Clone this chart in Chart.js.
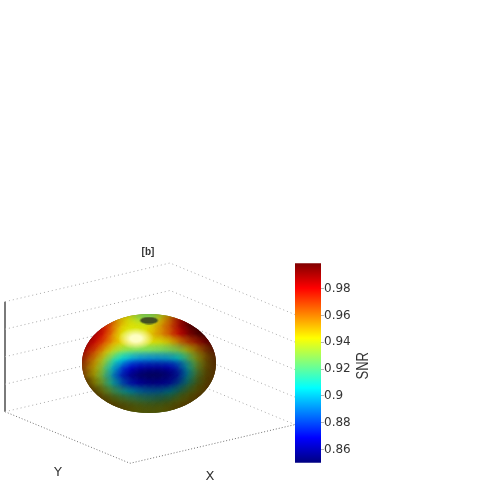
<!DOCTYPE html>
<html>
<head>
<meta charset="utf-8">
<style>
  html, body { margin: 0; background: #fff; }
  canvas { position: absolute; filter: blur(0.45px); }
  #view { left: 0; top: 0; }
  #bar { left: 295px; top: 256px; }
</style>
</head>
<body>
<canvas id="view" width="485" height="485"></canvas>
<canvas id="bar" width="90" height="214"></canvas>
<script src="https://cdn.jsdelivr.net/npm/chart.js@4"></script>
<script>
// colorbar
const snrTicks = [0.86, 0.88, 0.9, 0.92, 0.94, 0.96, 0.98];
const snrMin = 0.8501;
const snrMax = 0.999;
const jetStops = [
  [0, 0, 0, 128],
  [1 / 8, 0, 0, 255],
  [3 / 8, 0, 255, 255],
  [5 / 8, 255, 255, 0],
  [7 / 8, 255, 0, 0],
  [1, 128, 0, 0]
];

// box levels
const boxSpan = [0, 1];
const zLevels = [0, 0.25, 0.5, 0.75, 1];

const ballSnr = [
  [0.965, 0.965, 0.960, 0.955, 0.950, 0.945, 0.938, 0.932, 0.928, 0.932, 0.940, 0.950, 0.960, 0.975, 0.985, 0.990, 0.990],
  [0.980, 0.978, 0.975, 0.968, 0.958, 0.950, 0.942, 0.932, 0.928, 0.932, 0.948, 0.962, 0.982, 0.994, 0.998, 0.998, 0.998],
  [0.985, 0.985, 0.982, 0.975, 0.962, 0.948, 0.942, 0.942, 0.942, 0.948, 0.958, 0.968, 0.985, 0.996, 0.999, 0.999, 0.999],
  [0.990, 0.988, 0.985, 0.975, 0.958, 0.942, 0.940, 0.940, 0.945, 0.952, 0.958, 0.968, 0.980, 0.990, 0.996, 0.996, 0.996],
  [0.988, 0.985, 0.978, 0.966, 0.954, 0.946, 0.945, 0.945, 0.942, 0.942, 0.942, 0.948, 0.958, 0.968, 0.975, 0.982, 0.985],
  [0.982, 0.976, 0.966, 0.952, 0.938, 0.930, 0.926, 0.925, 0.925, 0.925, 0.925, 0.926, 0.930, 0.942, 0.954, 0.964, 0.970],
  [0.975, 0.966, 0.954, 0.936, 0.918, 0.906, 0.898, 0.893, 0.892, 0.892, 0.893, 0.897, 0.906, 0.922, 0.940, 0.954, 0.962],
  [0.968, 0.958, 0.946, 0.926, 0.902, 0.884, 0.870, 0.863, 0.861, 0.861, 0.863, 0.868, 0.882, 0.908, 0.932, 0.950, 0.960],
  [0.964, 0.954, 0.942, 0.922, 0.896, 0.874, 0.860, 0.853, 0.850, 0.850, 0.853, 0.860, 0.876, 0.904, 0.930, 0.950, 0.958],
  [0.964, 0.956, 0.944, 0.928, 0.908, 0.888, 0.874, 0.866, 0.862, 0.862, 0.866, 0.874, 0.890, 0.914, 0.936, 0.952, 0.960],
  [0.966, 0.960, 0.952, 0.940, 0.926, 0.914, 0.904, 0.896, 0.892, 0.892, 0.896, 0.906, 0.920, 0.936, 0.948, 0.956, 0.962],
  [0.970, 0.965, 0.960, 0.952, 0.944, 0.936, 0.930, 0.925, 0.922, 0.922, 0.925, 0.932, 0.942, 0.950, 0.956, 0.962, 0.966],
  [0.972, 0.968, 0.965, 0.960, 0.955, 0.950, 0.946, 0.942, 0.940, 0.940, 0.942, 0.948, 0.954, 0.958, 0.962, 0.966, 0.968]
];

const textColor = '#333333';

// screen layout of the box and the ball
const boxOrigin = { x: 130, y: 463.3 };
const boxEdgeX = { x: 165, y: -38.7 };
const boxEdgeY = { x: -125, y: -51.6 };
const boxEdgeZ = -110;
const ball = { x: 149, y: 363.5, rx: 67, ry: 49.5 };

function project(bx, by, bz) {
  return {
    x: boxOrigin.x + bx * boxEdgeX.x + by * boxEdgeY.x,
    y: boxOrigin.y + bx * boxEdgeX.y + by * boxEdgeY.y + bz * boxEdgeZ
  };
}

function jet(v) {
  const t = Math.min(1, Math.max(0, (v - snrMin) / (snrMax - snrMin)));
  let i = 0;
  while (i < jetStops.length - 2 && t > jetStops[i + 1][0]) i++;
  const a = jetStops[i], b = jetStops[i + 1];
  const f = (t - a[0]) / (b[0] - a[0]);
  return [1, 2, 3].map(k => a[k] + (b[k] - a[k]) * f);
}

// camlight style shading on the ball
function shade(u, v) {
  const r2 = Math.min(1, u * u + v * v);
  const nz = Math.sqrt(1 - r2);
  const d = Math.max(0, -0.25 * u - 0.45 * v + 0.85 * nz);
  return Math.min(1, 0.32 + 0.6 * d);
}

function softSprite(rgb, w, h, hold, peak) {
  const c = document.createElement('canvas');
  c.width = w;
  c.height = h;
  const g = c.getContext('2d');
  g.translate(w / 2, h / 2);
  g.scale(w / 2, h / 2);
  const grad = g.createRadialGradient(0, 0, 0, 0, 0, 1);
  const col = 'rgba(' + rgb.map(Math.round).join(',') + ',';
  grad.addColorStop(0, col + peak + ')');
  grad.addColorStop(hold, col + peak + ')');
  grad.addColorStop(1, col + '0)');
  g.fillStyle = grad;
  g.fillRect(-1, -1, 2, 2);
  return c;
}

const ballPoints = [];
const ballSprites = [];
ballSnr.forEach((row, j) => {
  row.forEach((snr, i) => {
    const u = i / (row.length - 1) * 2 - 1;
    const v = j / (ballSnr.length - 1) * 2 - 1;
    ballPoints.push({ x: ball.x + u * ball.rx, y: ball.y + v * ball.ry });
    const s = shade(u, v);
    ballSprites.push(softSprite(jet(snr).map(c => c * s), 28, 28, 0.15, 1));
  });
});

const holeSprite = softSprite([68, 80, 34], 20, 8, 0.75, 1);
const glareSprite = softSprite([255, 255, 205], 36, 22, 0.3, 0.95);

const lineStyle = (color, dash, width) => ({
  showLine: true,
  pointRadius: 0,
  borderColor: color,
  borderWidth: width,
  borderDash: dash,
  fill: false,
  tension: 0
});

const datasets = [
  { label: 'hole', data: [{ x: 149, y: 320.5 }], pointStyle: holeSprite, pointRadius: 5 },
  { label: 'glare', data: [{ x: 136, y: 338.5 }], pointStyle: glareSprite, pointRadius: 5 },
  { label: 'ball', data: ballPoints, pointStyle: ctx => ballSprites[ctx.dataIndex], pointRadius: 5 }
];

zLevels.forEach(z => {
  datasets.push({
    label: 'wall ' + z,
    data: [project(0, 1, z), project(1, 1, z), project(1, 0, z)],
    ...lineStyle('#a8a8a8', [1, 3], 1)
  });
});
datasets.push({
  label: 'floor',
  data: [project(0, 1, 0), project(0, 0, 0), project(1, 0, 0)],
  ...lineStyle('#707070', [1, 2], 1)
});
datasets.push({
  label: 'z axis',
  data: [project(boxSpan[0], boxSpan[1], 0), project(boxSpan[0], boxSpan[1], 1)],
  ...lineStyle('#7a7a7a', [], 2)
});

const ballClip = {
  id: 'ballClip',
  beforeDatasetDraw(chart, args) {
    if (chart.data.datasets[args.index].label !== 'ball') return;
    const sx = chart.scales.x, sy = chart.scales.y;
    const c = chart.ctx;
    c.save();
    c.beginPath();
    c.ellipse(sx.getPixelForValue(ball.x), sy.getPixelForValue(ball.y),
      ball.rx, ball.ry, 0, 0, Math.PI * 2);
    c.clip();
  },
  afterDatasetDraw(chart, args) {
    if (chart.data.datasets[args.index].label !== 'ball') return;
    chart.ctx.restore();
  }
};

const viewLabels = {
  id: 'viewLabels',
  afterDraw(chart) {
    const c = chart.ctx;
    c.save();
    c.fillStyle = textColor;
    c.textAlign = 'center';
    c.textBaseline = 'middle';
    c.font = 'bold 10px "Liberation Sans"';
    c.fillText('[b]', 148, 252.5);
    c.font = '13px "DejaVu Sans"';
    c.fillText('Y', 58, 473);
    c.fillText('X', 210, 476.5);
    c.restore();
  }
};

new Chart(document.getElementById('view'), {
  type: 'scatter',
  data: { datasets },
  plugins: [ballClip, viewLabels],
  options: {
    responsive: false,
    animation: false,
    layout: { padding: 0, autoPadding: false },
    plugins: { legend: { display: false }, tooltip: { enabled: false } },
    scales: {
      x: { type: 'linear', min: 0, max: 485, display: false },
      y: { type: 'linear', min: 0, max: 485, reverse: true, display: false }
    }
  }
});

const barTitle = {
  id: 'barTitle',
  afterDraw(chart) {
    const c = chart.ctx;
    c.save();
    c.fillStyle = textColor;
    c.translate(68, chart.scales.y.getPixelForValue(0.9225));
    c.rotate(-Math.PI / 2);
    c.scale(1, 1.3);
    c.textAlign = 'center';
    c.textBaseline = 'middle';
    c.font = '13px "Liberation Sans"';
    c.fillText('SNR', 0, 0);
    c.restore();
  }
};

new Chart(document.getElementById('bar'), {
  type: 'bar',
  data: {
    labels: ['SNR'],
    datasets: [{
      data: [[snrMin, snrMax]],
      borderWidth: 0,
      borderSkipped: false,
      barPercentage: 1,
      categoryPercentage: 1,
      backgroundColor(ctx) {
        const area = ctx.chart.chartArea;
        if (!area) return '#000';
        const g = ctx.chart.ctx.createLinearGradient(0, area.bottom, 0, area.top);
        jetStops.forEach(s => g.addColorStop(s[0], 'rgb(' + s.slice(1).join(',') + ')'));
        return g;
      }
    }]
  },
  plugins: [barTitle],
  options: {
    responsive: false,
    animation: false,
    layout: { padding: { top: 7, bottom: 7, left: 0, right: 0 }, autoPadding: false },
    plugins: { legend: { display: false }, tooltip: { enabled: false } },
    scales: {
      x: { display: false },
      y: {
        position: 'right',
        min: snrMin,
        max: snrMax,
        afterFit(scale) { scale.width = 64; },
        afterBuildTicks(scale) { scale.ticks = snrTicks.map(value => ({ value })); },
        border: { display: false },
        grid: { drawOnChartArea: false, drawTicks: true, tickLength: 3, color: '#b5b5b5' },
        ticks: {
          padding: 0,
          color: textColor,
          font: { family: '"DejaVu Sans"', size: 12 },
          callback: v => String(v)
        }
      }
    }
  }
});
</script>
</body>
</html>
